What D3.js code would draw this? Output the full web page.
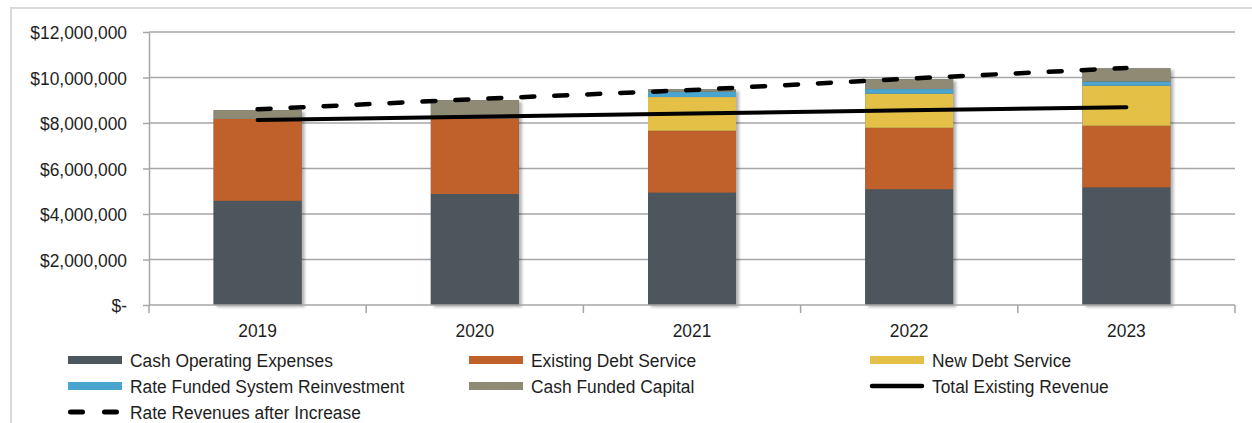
<!DOCTYPE html>
<html>
<head>
<meta charset="utf-8">
<script src="https://cdn.jsdelivr.net/npm/d3@7"></script>
<style>
  html, body { margin: 0; padding: 0; background: #fff; }
  svg { display: block; }
  text { font-family: "Liberation Sans", Arial, sans-serif; fill: #1e1e1e; }
</style>
</head>
<body>
<svg id="chart" width="1252" height="423"></svg>
<script>
// Revenue requirement by year (dollars)
const years = ["2019", "2020", "2021", "2022", "2023"];
const cashOperatingExpenses = [4580000, 4880000, 4940000, 5090000, 5170000];
const existingDebtService   = [3600000, 3320000, 2720000, 2700000, 2710000];
const newDebtService        = [0, 0, 1480000, 1500000, 1760000];
const rateFundedReinvestment = [0, 0, 240000, 200000, 180000];
const cashFundedCapital     = [390000, 810000, 100000, 430000, 580000];
const totalExistingRevenue  = [8130000, 8270000, 8420000, 8560000, 8690000];
const rateRevenuesAfterIncrease = [8600000, 9050000, 9450000, 9950000, 10420000];
const yTicks = [0, 2000000, 4000000, 6000000, 8000000, 10000000, 12000000];

const seriesNames = ["Cash Operating Expenses", "Existing Debt Service", "New Debt Service",
                     "Rate Funded System Reinvestment", "Cash Funded Capital"];
const seriesColors = ["#4d565d", "#c0612b", "#e4c146", "#4aa5ce", "#8e8a74"];
const seriesValues = [cashOperatingExpenses, existingDebtService, newDebtService,
                      rateFundedReinvestment, cashFundedCapital];

const FONT_SIZE = 19;      // tall glyphs ...
const FONT_SQUEEZE = 0.915; // ... drawn slightly condensed

const svg = d3.select("#chart");
const plot = { left: 149, right: 1235, top: 32, bottom: 305 };

// outer frame (top and left edges)
svg.append("path")
  .attr("d", `M11,423 L11,8 L1252,8`)
  .attr("fill", "none").attr("stroke", "#d9d9d9").attr("stroke-width", 2);

const x = d3.scaleBand().domain(years).range([plot.left, plot.right]).padding(0);
const y = d3.scaleLinear().domain([0, 12000000]).range([plot.bottom, plot.top]);

// drop shadow for the columns
const defs = svg.append("defs");
const f = defs.append("filter").attr("id", "shadow")
  .attr("x", "-10%").attr("y", "-10%").attr("width", "130%").attr("height", "120%");
f.append("feDropShadow").attr("dx", 3).attr("dy", 2).attr("stdDeviation", 1.6)
  .attr("flood-color", "#000").attr("flood-opacity", 0.3);

// condensed label helper
function label(sel, tx, ty, anchor) {
  return sel.attr("x", 0).attr("y", 0)
    .attr("transform", `translate(${tx},${ty}) scale(${FONT_SQUEEZE},1)`)
    .attr("text-anchor", anchor)
    .attr("font-size", FONT_SIZE + "px");
}

// gridlines
svg.append("g").selectAll("line").data(yTicks.filter(d => d > 0)).join("line")
  .attr("x1", plot.left).attr("x2", plot.right)
  .attr("y1", d => y(d)).attr("y2", d => y(d))
  .attr("stroke", "#a6a6a6").attr("stroke-width", 1.5);

// y axis
const fmt = d => d === 0 ? "$-" : "$" + d3.format(",")(d);
const yAxis = svg.append("g").attr("transform", `translate(${plot.left},0)`)
  .call(d3.axisLeft(y).tickValues(yTicks).tickFormat(fmt).tickSizeInner(6).tickSizeOuter(0));
yAxis.select(".domain").attr("stroke", "#a6a6a6").attr("stroke-width", 1.5);
yAxis.selectAll(".tick line").attr("stroke", "#a6a6a6").attr("stroke-width", 1.5);
yAxis.selectAll(".tick text").each(function () {
  label(d3.select(this), -22, 0, "end").attr("dy", "0.35em").attr("fill", "#1e1e1e")
    .style("font-family", "'Liberation Sans', Arial, sans-serif");
});

// stacked columns
const table = years.map((yr, i) => {
  const row = { year: yr };
  seriesNames.forEach((n, k) => row[n] = seriesValues[k][i]);
  return row;
});
const stacked = d3.stack().keys(seriesNames)(table);
const barW = x.bandwidth() * 0.405;

const bars = svg.append("g");
// shadow layer drawn from the full column outline
bars.append("g").attr("filter", "url(#shadow)")
  .selectAll("rect").data(table).join("rect")
  .attr("x", d => x(d.year) + (x.bandwidth() - barW) / 2)
  .attr("width", barW)
  .attr("y", d => y(d3.sum(seriesNames, n => d[n])))
  .attr("height", d => y(0) - y(d3.sum(seriesNames, n => d[n])))
  .attr("fill", "#4d565d");

bars.selectAll("g.layer").data(stacked).join("g").attr("class", "layer")
  .attr("fill", (d, i) => seriesColors[i])
  .selectAll("rect").data(d => d).join("rect")
  .attr("x", d => x(d.data.year) + (x.bandwidth() - barW) / 2)
  .attr("width", barW)
  .attr("y", d => y(d[1]))
  .attr("height", d => Math.max(0, y(d[0]) - y(d[1])));

// x axis
svg.append("line").attr("x1", plot.left).attr("x2", plot.right)
  .attr("y1", plot.bottom).attr("y2", plot.bottom)
  .attr("stroke", "#a6a6a6").attr("stroke-width", 1.5);
const boundaries = years.map(yr => x(yr)).concat([x(years[years.length - 1]) + x.bandwidth()]);
svg.append("g").selectAll("line").data(boundaries).join("line")
  .attr("x1", d => d).attr("x2", d => d)
  .attr("y1", plot.bottom).attr("y2", plot.bottom + 8)
  .attr("stroke", "#a6a6a6").attr("stroke-width", 1.5);
svg.append("g").selectAll("text").data(years).join("text")
  .each(function (d) { label(d3.select(this), x(d) + x.bandwidth() / 2, 337, "middle"); })
  .text(d => d);

// revenue lines
const line = d3.line().x((d, i) => x(years[i]) + x.bandwidth() / 2).y(d => y(d));
svg.append("path").datum(totalExistingRevenue)
  .attr("d", line).attr("fill", "none").attr("stroke", "#000")
  .attr("stroke-width", 4).attr("stroke-linecap", "round");
svg.append("path").datum(rateRevenuesAfterIncrease)
  .attr("d", line).attr("fill", "none").attr("stroke", "#000")
  .attr("stroke-width", 4.5).attr("stroke-linecap", "round")
  .attr("stroke-dasharray", "13,20");

// legend
const legendItems = [
  { name: seriesNames[0], color: seriesColors[0], type: "rect", col: 0, row: 0 },
  { name: seriesNames[1], color: seriesColors[1], type: "rect", col: 1, row: 0 },
  { name: seriesNames[2], color: seriesColors[2], type: "rect", col: 2, row: 0 },
  { name: seriesNames[3], color: seriesColors[3], type: "rect", col: 0, row: 1 },
  { name: seriesNames[4], color: seriesColors[4], type: "rect", col: 1, row: 1 },
  { name: "Total Existing Revenue", color: "#000", type: "solid", col: 2, row: 1 },
  { name: "Rate Revenues after Increase", color: "#000", type: "dash", col: 0, row: 2 }
];
const colX = [68, 469, 870];
const rowY = [360, 386, 412];
const lg = svg.append("g").selectAll("g").data(legendItems).join("g")
  .attr("transform", d => `translate(${colX[d.col]},${rowY[d.row]})`);
lg.filter(d => d.type === "rect").append("rect")
  .attr("x", 0).attr("y", -4).attr("width", 54).attr("height", 8).attr("fill", d => d.color);
lg.filter(d => d.type === "solid").append("line")
  .attr("x1", 2).attr("x2", 52).attr("y1", 0).attr("y2", 0)
  .attr("stroke", "#000").attr("stroke-width", 4.5).attr("stroke-linecap", "round");
lg.filter(d => d.type === "dash").append("line")
  .attr("x1", 2.5).attr("x2", 52).attr("y1", 0).attr("y2", 0)
  .attr("stroke", "#000").attr("stroke-width", 5).attr("stroke-linecap", "round")
  .attr("stroke-dasharray", "12,22");
lg.append("text").each(function () { label(d3.select(this), 62, 7, "start"); })
  .text(d => d.name);
</script>
</body>
</html>
